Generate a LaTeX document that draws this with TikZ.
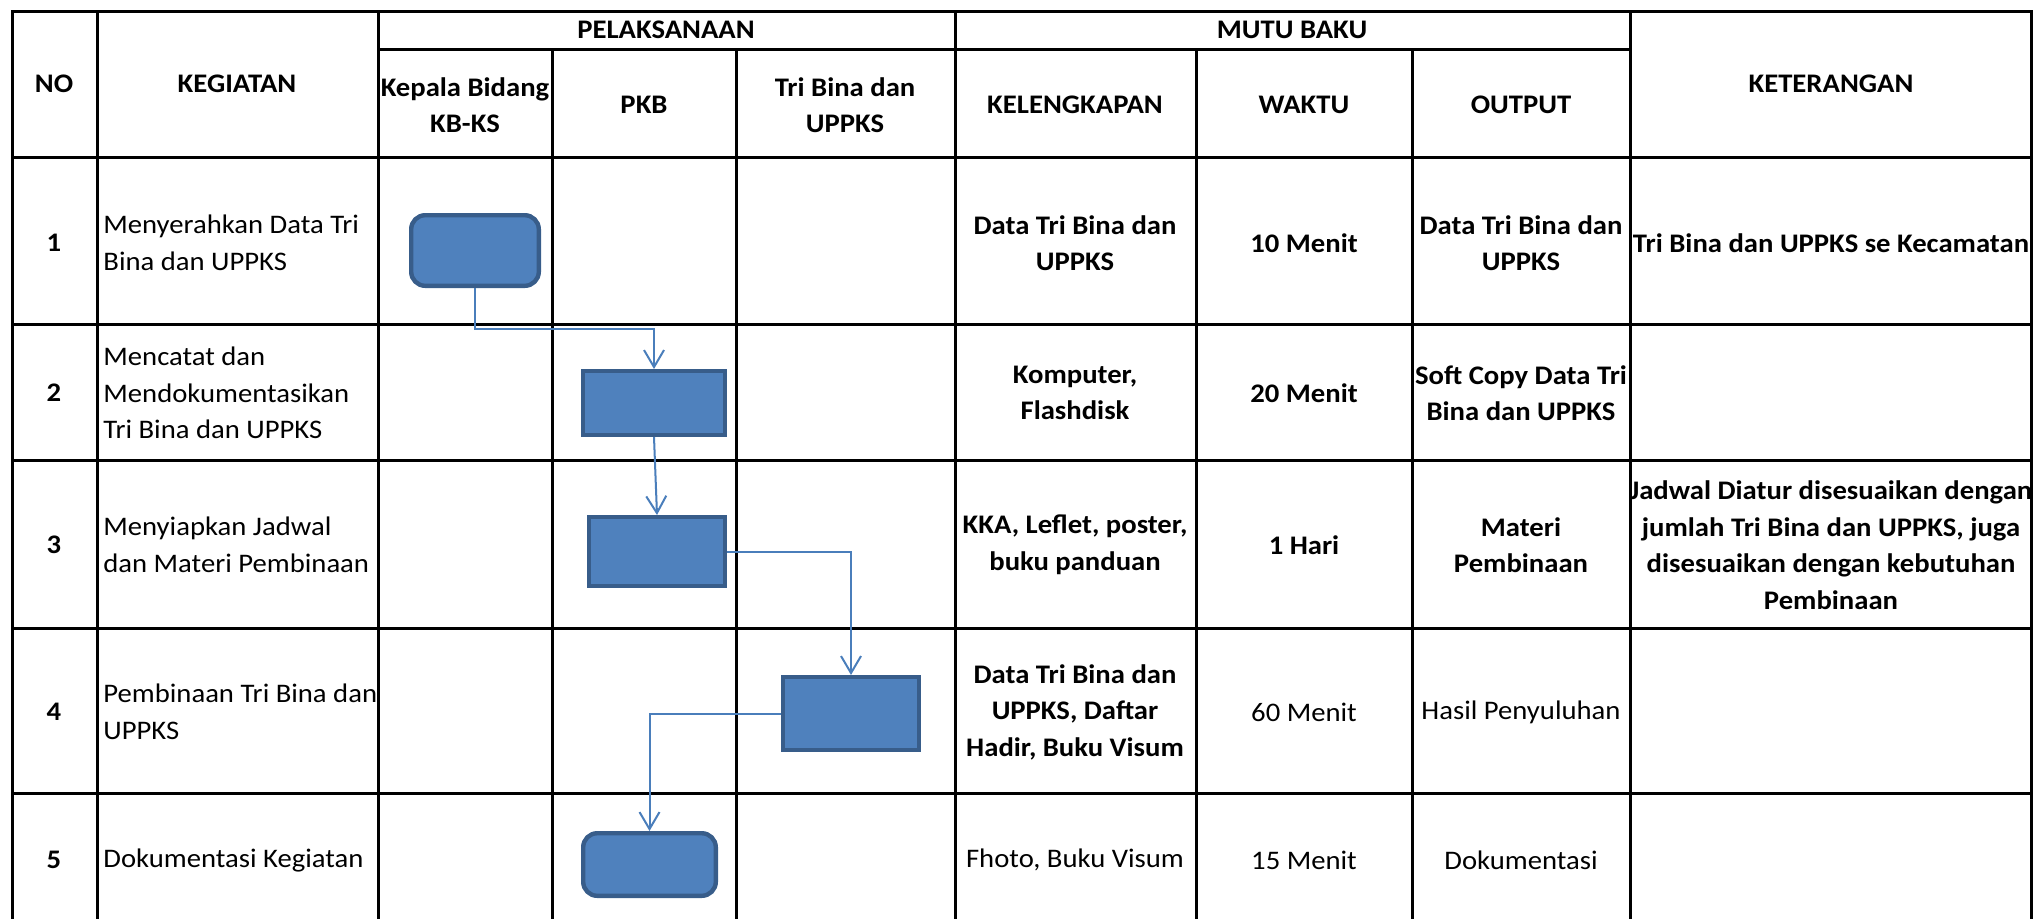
\documentclass[tikz,border=0pt]{standalone}
\usepackage{fontspec}
\setmainfont{Carlito}[FakeStretch=1.07]
\usepackage{tikz}
\usetikzlibrary{arrows.meta}
\definecolor{boxfill}{RGB}{79,129,189}
\definecolor{boxline}{RGB}{56,93,138}
\definecolor{arrline}{RGB}{74,126,187}
\newcommand{\cellfont}{\fontsize{13.4}{18.3}\selectfont}

\begin{document}
\begin{tikzpicture}[x=0.5pt, y=-0.5pt,
  grd/.style={line width=1.5pt, line cap=rect},
  hd/.style={font=\cellfont\bfseries, align=center, inner sep=0pt},
  cel/.style={font=\cellfont, align=center, inner sep=0pt},
  kg/.style={font=\cellfont, anchor=west, align=left, inner sep=0pt},
  shp/.style={fill=boxfill, draw=boxline, line width=2.2pt, inner sep=0pt},
  rnd/.style={shp, rounded corners=7pt},
  arr/.style={draw=arrline, line width=1pt, -{Straight Barb[length=8.5pt,width=10pt]}}]
\useasboundingbox (0,0) rectangle (2033,918);
\draw[grd] (12,11) -- (2031,11);
\draw[grd] (378,49) -- (1630,49);
\foreach \y in {157,324,460,628,793}{\draw[grd] (12,\y) -- (2031,\y);}
\foreach \x in {12,97,378,955,1630,2031}{\draw[grd] (\x,11) -- (\x,918);}
\foreach \x in {552,736,1196,1412}{\draw[grd] (\x,49) -- (\x,918);}

\node[hd] (no) at (54,84) {NO};
\node[hd] (keg) at (237,84) {KEGIATAN};
\node[hd] (pel) at (666,30) {PELAKSANAAN};
\node[hd] (mutu) at (1292,30) {MUTU BAKU};
\node[hd] (ket) at (1831,84) {KETERANGAN};
\node[hd] (kabid) at (465,105) {Kepala Bidang\\KB-KS};
\node[hd] (pkb) at (644,105) {PKB};
\node[hd] (tribina) at (845,105) {Tri Bina dan\\UPPKS};
\node[hd] (kel) at (1075,105) {KELENGKAPAN};
\node[hd] (wkt) at (1304,105) {WAKTU};
\node[hd] (outp) at (1521,105) {OUTPUT};

\foreach \n/\y in {1/243,2/393,3/545,4/712,5/860}{\node[hd] (no\n) at (54,\y) {\n};}

\node[kg] (keg1) at (103,243) {Menyerahkan Data Tri\\Bina dan UPPKS};
\node[kg] (keg2) at (103,393) {Mencatat dan\\Mendokumentasikan\\Tri Bina dan UPPKS};
\node[kg] (keg3) at (103,545) {Menyiapkan Jadwal\\dan Materi Pembinaan};
\node[kg] (keg4) at (103,712) {Pembinaan Tri Bina dan\\UPPKS};
\node[kg] (keg5) at (103,860) {Dokumentasi Kegiatan};

\node[hd] (kel1) at (1075,243) {Data Tri Bina dan\\UPPKS};
\node[hd] (wkt1) at (1304,243) {10 Menit};
\node[hd] (out1) at (1521,243) {Data Tri Bina dan\\UPPKS};
\node[hd] (ket1) at (1831,243) {Tri Bina dan UPPKS se Kecamatan};
\node[hd] (kel2) at (1075,393) {Komputer,\\Flashdisk};
\node[hd] (wkt2) at (1304,393) {20 Menit};
\node[hd] (out2) at (1521,393) {Soft Copy Data Tri\\Bina dan UPPKS};
\node[hd] (kel3) at (1075,545) {KKA, Leflet, poster,\\buku panduan};
\node[hd] (wkt3) at (1304,545) {1 Hari};
\node[hd] (out3) at (1521,545) {Materi\\Pembinaan};
\node[hd] (ket3) at (1831,545) {Jadwal Diatur disesuaikan dengan\\jumlah Tri Bina dan UPPKS, juga\\disesuaikan dengan kebutuhan\\Pembinaan};
\node[hd] (kel4) at (1075,712) {Data Tri Bina dan\\UPPKS, Daftar\\Hadir, Buku Visum};
\node[cel] (wkt4) at (1304,712) {60 Menit};
\node[cel] (out4) at (1521,712) {Hasil Penyuluhan};
\node[cel] (kel5) at (1075,860) {Fhoto, Buku Visum};
\node[cel] (wkt5) at (1304,860) {15 Menit};
\node[cel] (out5) at (1521,860) {Dokumentasi};

\node[rnd, minimum width=63.8pt, minimum height=35.3pt] (s1) at (475,250.5) {};
\node[shp, minimum width=70.8pt, minimum height=31.8pt] (s2) at (654,403) {};
\node[shp, minimum width=67.8pt, minimum height=34.3pt] (s3) at (657,551.5) {};
\node[shp, minimum width=67.8pt, minimum height=36.3pt] (s4) at (851,713.5) {};
\node[rnd, minimum width=66.3pt, minimum height=31.3pt] (s5) at (649.5,864.5) {};

\coordinate (k1) at (560,329);
\draw[arr] (s1.south) |- (k1) -| (s2.north);
\draw[arr] (s2.south) -- (s3.north);
\draw[arr] (s3.east) -| (s4.north);
\draw[arr] (s4.west) -| (s5.north);
\end{tikzpicture}
\end{document}
